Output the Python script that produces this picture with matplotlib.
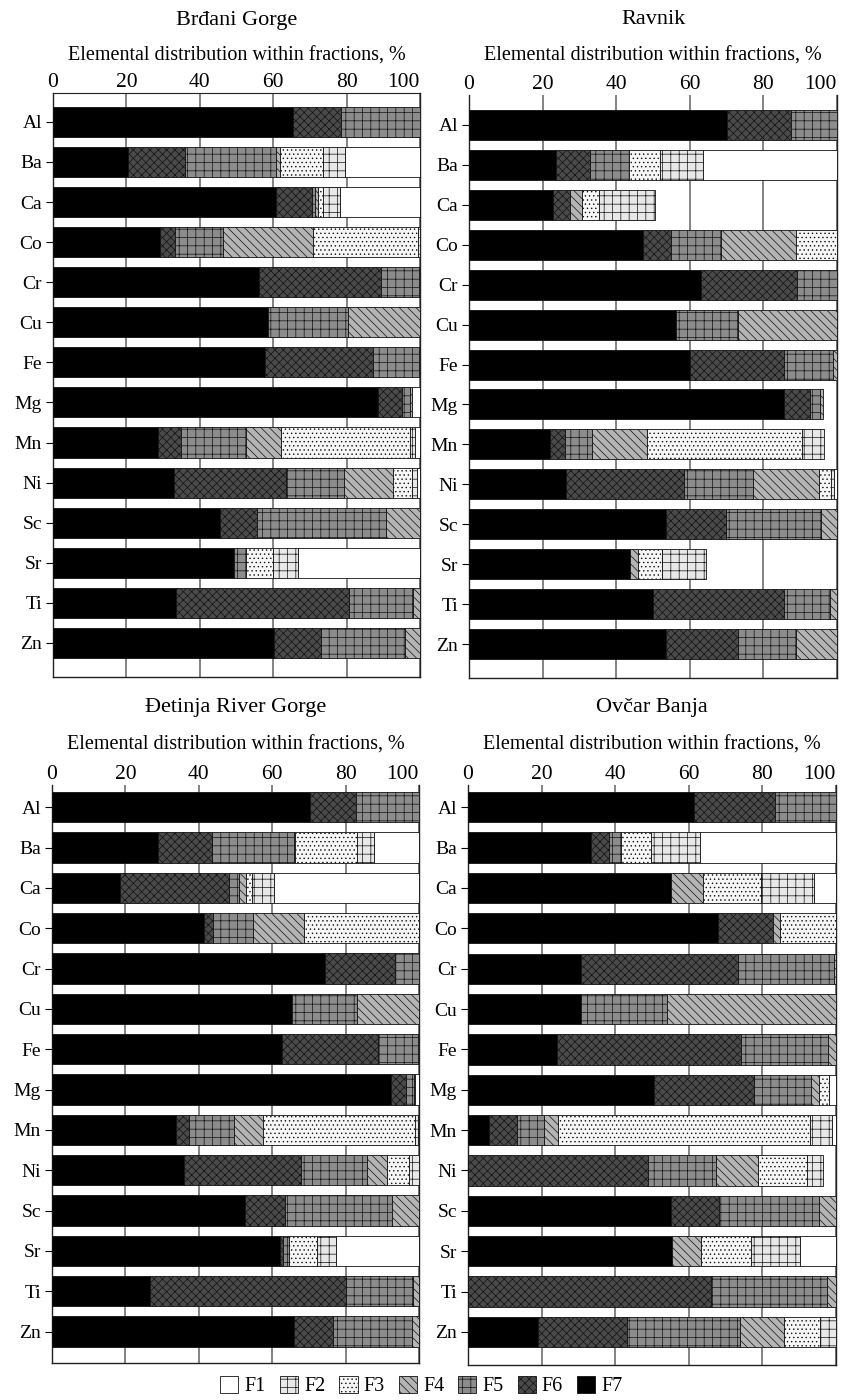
import matplotlib
matplotlib.use("Agg")
import matplotlib.pyplot as plt
from matplotlib.patches import Patch
import numpy as np

plt.rcParams['font.family'] = ['Liberation Serif', 'DejaVu Serif']
plt.rcParams['hatch.linewidth'] = 0.5

elements = ["Al", "Ba", "Ca", "Co", "Cr", "Cu", "Fe", "Mg", "Mn", "Ni", "Sc", "Sr", "Ti", "Zn"]
fractions = ["F7", "F6", "F5", "F4", "F3", "F2", "F1"]
xticks = [0, 20, 40, 60, 80, 100]
xlabel = "Elemental distribution within fractions, %"

site_names = ["Brđani Gorge", "Ravnik", "Đetinja River Gorge", "Ovčar Banja"]

# each row: F7, F6, F5, F4, F3, F2, F1 (%)
brdani = [
    [65.3, 13.3, 21.4, 0.0, 0.0, 0.0, 0.0],
    [20.5, 15.4, 24.8, 1.1, 11.8, 5.9, 20.5],
    [60.7, 9.8, 1.0, 0.8, 1.2, 4.7, 21.8],
    [29.1, 4.1, 13.0, 24.7, 28.6, 0.5, 0.0],
    [56.2, 33.1, 10.5, 0.2, 0.0, 0.0, 0.0],
    [58.5, 0.0, 21.8, 19.7, 0.0, 0.0, 0.0],
    [57.7, 29.4, 12.7, 0.2, 0.0, 0.0, 0.0],
    [88.5, 6.5, 2.3, 0.6, 0.0, 0.0, 2.1],
    [28.5, 6.5, 17.5, 9.6, 35.2, 1.3, 1.4],
    [33.0, 30.5, 15.9, 13.3, 5.2, 1.2, 0.9],
    [45.5, 10.2, 35.0, 9.3, 0.0, 0.0, 0.0],
    [49.4, 0.0, 3.3, 0.0, 7.3, 6.8, 33.2],
    [33.6, 47.1, 17.5, 1.8, 0.0, 0.0, 0.0],
    [60.2, 12.8, 22.9, 4.1, 0.0, 0.0, 0.0],
]
ravnik = [
    [70.1, 17.5, 12.4, 0.0, 0.0, 0.0, 0.0],
    [23.7, 9.2, 10.7, 0.0, 8.2, 11.8, 36.4],
    [22.9, 4.6, 0.0, 3.1, 4.6, 15.4, 0.0],
    [47.2, 7.7, 13.6, 20.3, 11.2, 0.0, 0.0],
    [63.1, 26.0, 10.9, 0.0, 0.0, 0.0, 0.0],
    [56.3, 0.0, 16.8, 26.9, 0.0, 0.0, 0.0],
    [60.1, 25.4, 13.3, 1.2, 0.0, 0.0, 0.0],
    [85.5, 7.2, 2.8, 0.6, 0.0, 0.0, 0.0],
    [22.0, 4.1, 7.3, 14.9, 42.2, 6.1, 0.0],
    [26.3, 32.0, 19.0, 17.9, 3.2, 0.9, 0.7],
    [53.6, 16.3, 25.8, 4.3, 0.0, 0.0, 0.0],
    [43.8, 0.0, 0.0, 2.0, 6.6, 12.0, 0.0],
    [49.9, 35.6, 12.5, 2.0, 0.0, 0.0, 0.0],
    [53.6, 19.5, 15.8, 11.1, 0.0, 0.0, 0.0],
]
detinja = [
    [70.3, 12.5, 17.2, 0.0, 0.0, 0.0, 0.0],
    [28.8, 14.9, 22.3, 0.3, 16.7, 4.8, 12.2],
    [18.6, 29.7, 2.7, 1.9, 1.6, 6.0, 39.5],
    [41.4, 2.6, 10.9, 13.7, 31.4, 0.0, 0.0],
    [74.3, 19.1, 6.6, 0.0, 0.0, 0.0, 0.0],
    [65.5, 0.0, 17.5, 17.0, 0.0, 0.0, 0.0],
    [62.6, 26.2, 10.9, 0.3, 0.0, 0.0, 0.0],
    [92.3, 4.1, 2.2, 0.3, 0.0, 0.0, 1.1],
    [33.8, 3.4, 12.5, 7.7, 41.4, 0.9, 0.3],
    [36.1, 31.7, 17.9, 5.7, 6.0, 2.6, 0.0],
    [52.6, 10.9, 29.2, 7.3, 0.0, 0.0, 0.0],
    [62.1, 0.9, 1.6, 0.0, 7.7, 5.2, 22.5],
    [26.6, 53.5, 18.3, 1.6, 0.0, 0.0, 0.0],
    [66.0, 10.6, 21.5, 1.9, 0.0, 0.0, 0.0],
]
ovcar = [
    [61.4, 22.1, 16.5, 0.0, 0.0, 0.0, 0.0],
    [33.4, 5.0, 3.3, 0.0, 8.0, 13.4, 36.9],
    [55.1, 0.0, 0.0, 8.7, 15.8, 14.5, 5.9],
    [67.9, 14.9, 0.0, 2.0, 15.2, 0.0, 0.0],
    [30.6, 42.7, 26.1, 0.6, 0.0, 0.0, 0.0],
    [30.7, 0.0, 23.3, 46.0, 0.0, 0.0, 0.0],
    [24.3, 49.8, 23.6, 2.3, 0.0, 0.0, 0.0],
    [50.6, 27.2, 15.4, 2.1, 2.7, 0.0, 2.0],
    [5.7, 7.5, 7.4, 3.9, 68.3, 6.1, 1.1],
    [0.0, 49.0, 18.4, 11.5, 13.2, 4.3, 0.0],
    [55.1, 13.1, 27.3, 4.5, 0.0, 0.0, 0.0],
    [55.4, 0.0, 0.0, 7.9, 13.6, 13.2, 9.9],
    [0.0, 66.1, 31.4, 2.5, 0.0, 0.0, 0.0],
    [19.1, 24.0, 30.7, 12.2, 9.6, 4.4, 0.0],
]
site_data = [brdani, ravnik, detinja, ovcar]

# styles: F7..F1
styles = {
    "F7": dict(facecolor="#000000", hatch=None),
    "F6": dict(facecolor="#4a4a4a", hatch="xxxx"),
    "F5": dict(facecolor="#8c8c8c", hatch="++"),
    "F4": dict(facecolor="#b4b4b4", hatch="\\\\\\\\"),
    "F3": dict(facecolor="#f6f6f6", hatch="...."),
    "F2": dict(facecolor="#e8e8e8", hatch="++"),
    "F1": dict(facecolor="#ffffff", hatch=None),
}

W, H = 843, 1400
fig = plt.figure(figsize=(W / 100, H / 100), dpi=100)

# axes rectangles in pixel coords: left, right, top, bottom
rects = [
    (53, 420, 93, 677),
    (469, 837, 95, 678),
    (52, 419, 785, 1363),
    (468, 836, 785, 1365),
]
ylims = [(13.85, -0.72), (13.85, -0.75), (13.78, -0.55), (13.82, -0.55)]
title_y = [20, 20, 708, 708]
xlabel_y = [56, 56, 745, 745]

for i, (name, data) in enumerate(zip(site_names, site_data)):
    l, r, t, b = rects[i]
    ax = fig.add_axes([l / W, 1 - b / H, (r - l) / W, (b - t) / H])
    arr = np.array(data)
    y = np.arange(len(elements))
    left = np.zeros(len(elements))
    for j, fr in enumerate(fractions):
        vals = arr[:, j]
        st = styles[fr]
        mask = vals > 0
        ax.barh(y[mask], vals[mask], left=left[mask], height=0.75,
                color=st["facecolor"], hatch=st["hatch"], edgecolor="#111111",
                linewidth=0.6, zorder=3)
        left += vals
    ax.set_xlim(0, 100)
    ax.set_ylim(*ylims[i])
    ax.set_yticks(y)
    ax.set_yticklabels(elements, fontsize=14)
    ax.set_xticks(xticks)
    ax.xaxis.tick_top()
    ax.tick_params(axis="x", length=0, labelsize=15.5, pad=1)
    ax.tick_params(axis="y", length=5, width=0.8, labelsize=14, pad=3)
    labs = ax.get_xticklabels()
    labs[-1].set_horizontalalignment("right")
    ax.grid(axis="x", color="#7a7a7a", linewidth=1.3, zorder=0)
    for s in ["left", "right", "bottom"]:
        ax.spines[s].set_color("#222222")
        ax.spines[s].set_linewidth(1.0)
    ax.spines["top"].set_visible(i == 0)
    ax.spines["top"].set_color("#222222")
    cx = (l + r) / 2 / W
    fig.text(cx, 1 - title_y[i] / H, name, ha="center", va="center", fontsize=16)
    fig.text(cx, 1 - xlabel_y[i] / H, xlabel, ha="center", va="center", fontsize=14.5)

handles = [Patch(facecolor=styles[f]["facecolor"], hatch=styles[f]["hatch"],
                 edgecolor="#111111", linewidth=0.6, label=f)
           for f in ["F1", "F2", "F3", "F4", "F5", "F6", "F7"]]
fig.legend(handles=handles, loc="center", bbox_to_anchor=(0.5, 1 - 1386 / H), ncol=7,
           frameon=False, fontsize=14.5, handlelength=0.9, handleheight=0.9,
           handletextpad=0.3, columnspacing=0.7, borderpad=0)

fig.savefig("out.png", dpi=100)
